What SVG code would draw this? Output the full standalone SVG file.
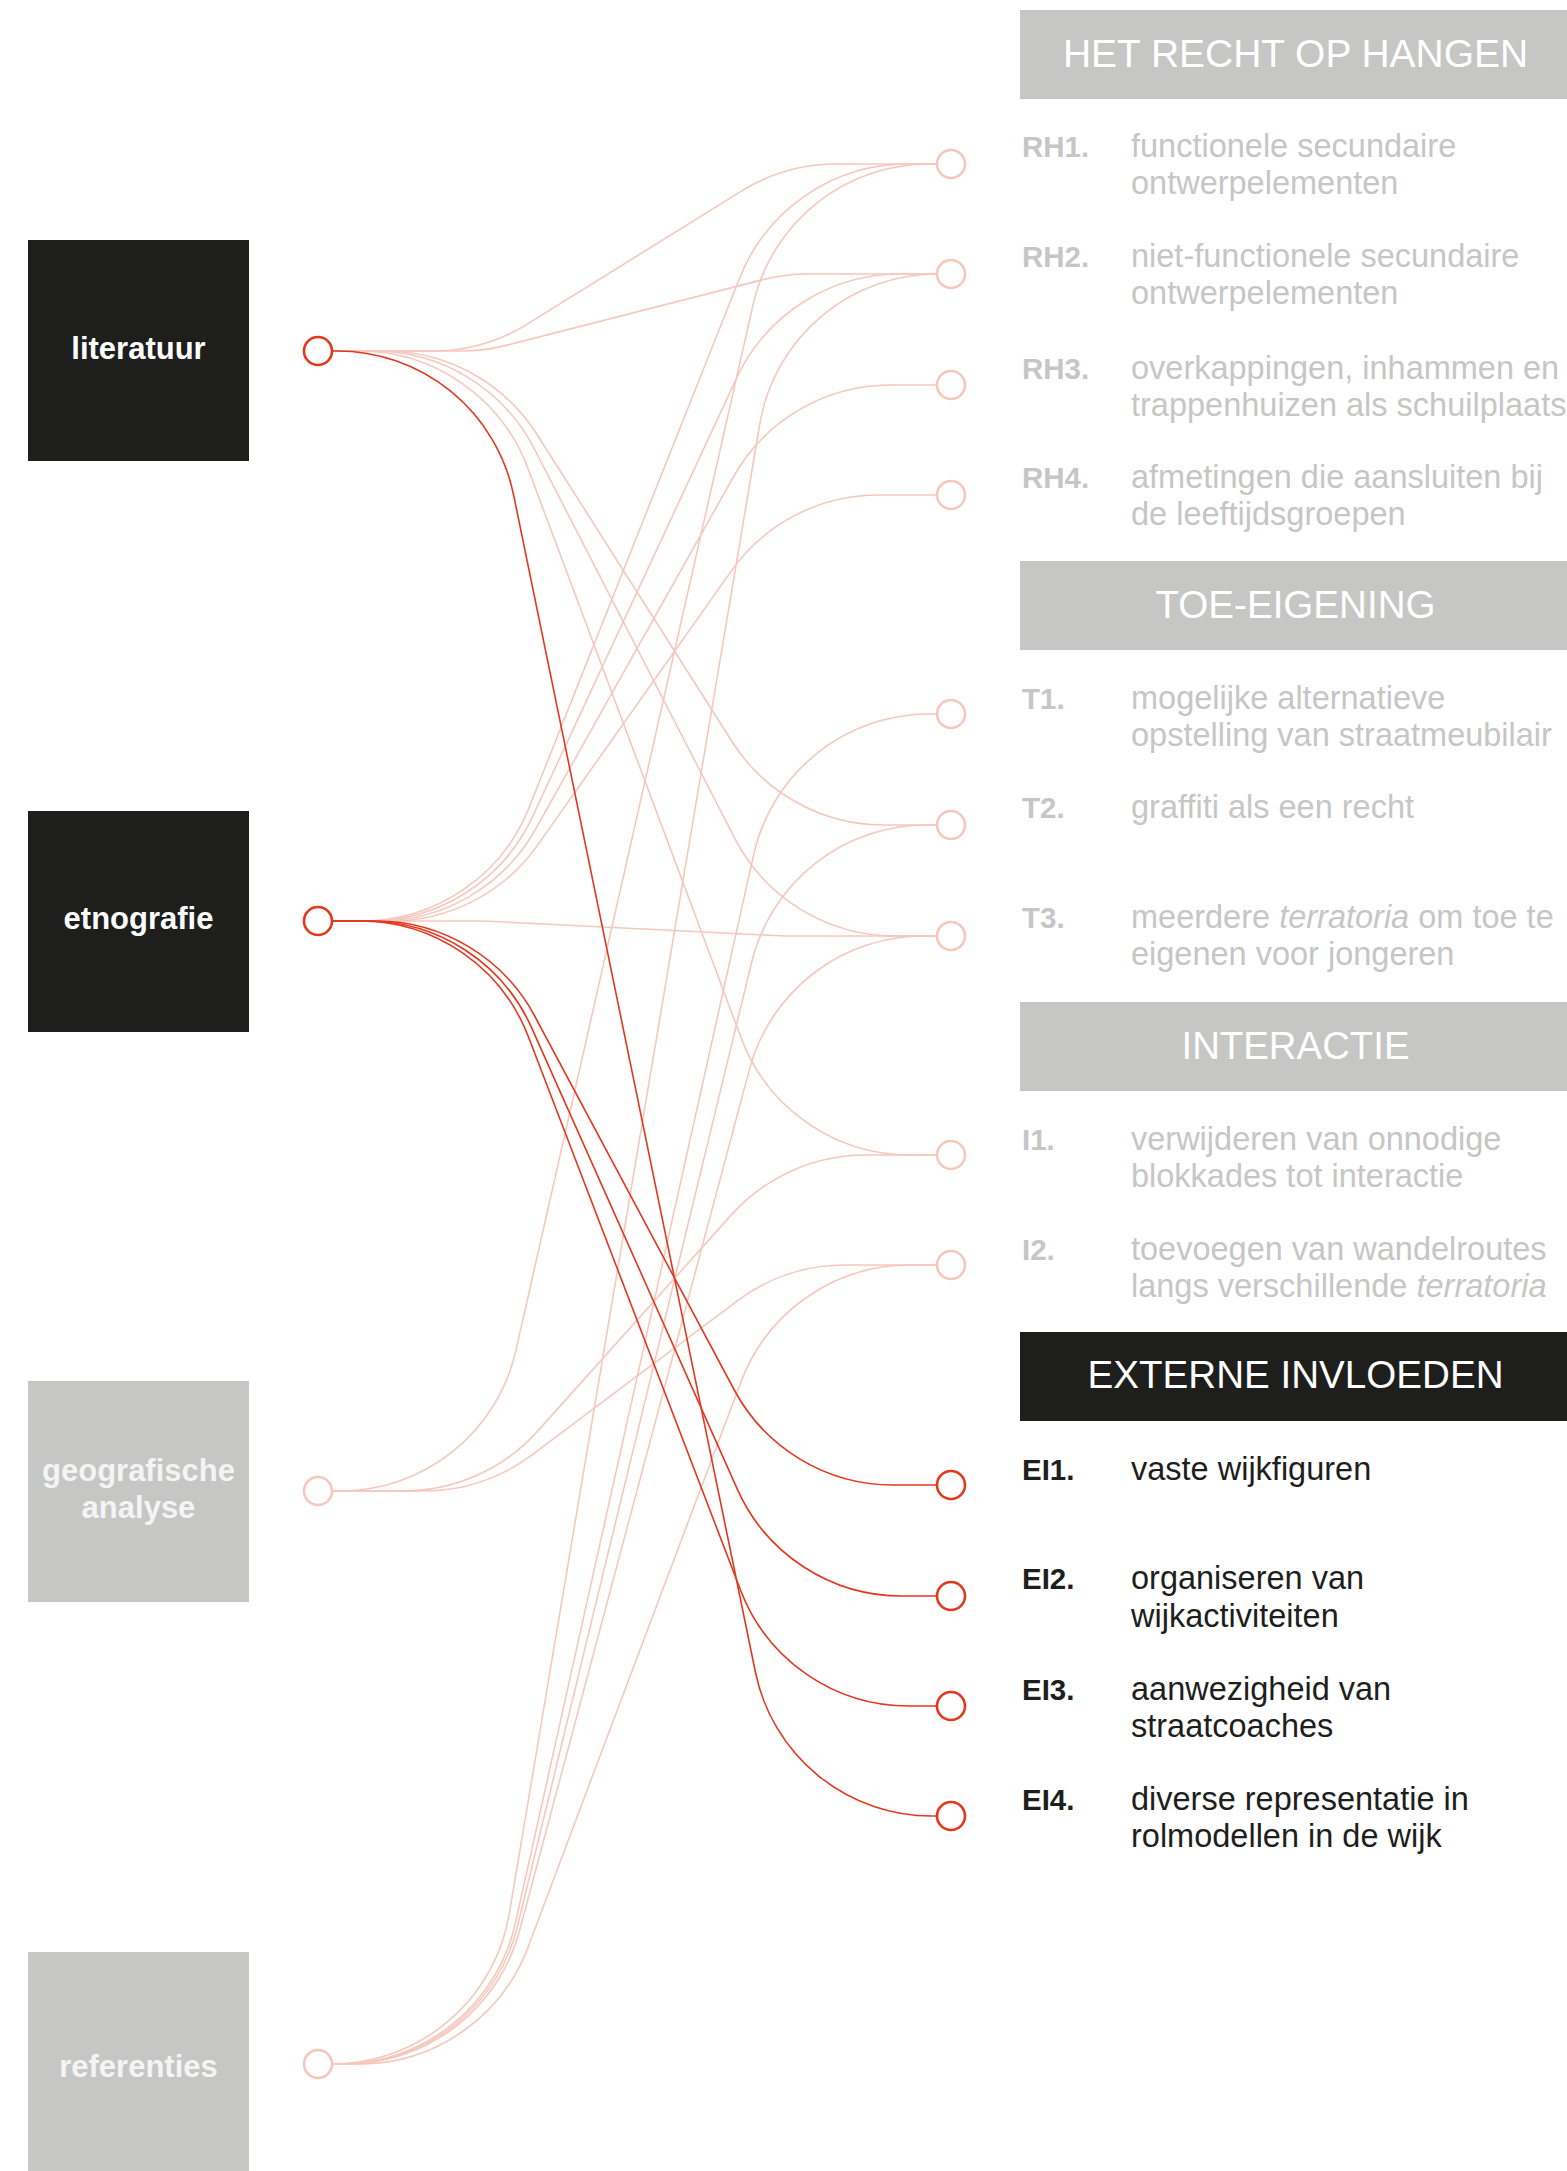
<svg xmlns="http://www.w3.org/2000/svg" width="1567" height="2171" viewBox="0 0 1567 2171">
<style>
.bg{fill:#ffffff}
.src{font-family:"Liberation Sans",Arial,sans-serif;font-weight:bold;font-size:31px;text-anchor:middle}
.hdr{font-family:"Liberation Sans",Arial,sans-serif;font-size:39px;fill:#ffffff;text-anchor:middle}
.lab{font-family:"Liberation Sans",Arial,sans-serif;font-weight:bold;font-size:29.5px}
.txt{font-family:"Liberation Sans",Arial,sans-serif;font-size:32.5px}
.pale{fill:#c6c6c5}
.dark{fill:#1e1e1d}
.lnk{fill:none;stroke:#f6c8bd;stroke-width:1.6}
.act{fill:none;stroke:#e3371e;stroke-width:1.6}
.pc{fill:#ffffff;stroke:#f6c8bd;stroke-width:2.6}
.rc{fill:#ffffff;stroke:#e3371e;stroke-width:2.6}
</style>
<rect class="bg" x="0" y="0" width="1567" height="2171"/>

<g id="connectors">
<path class="lnk" d="M318 351 H432.64 A180 180 0 0 0 527.63 323.90 L741.37 191.10 A180 180 0 0 1 836.36 164 H951"/>
<path class="lnk" d="M318 351 H461.34 A180 180 0 0 0 505.95 345.38 L763.05 279.62 A180 180 0 0 1 807.66 274 H951"/>
<path class="lnk" d="M318 351 H385.08 A180 180 0 0 1 537.03 434.51 L731.97 741.49 A180 180 0 0 0 883.92 825 H951"/>
<path class="lnk" d="M318 351 H374.19 A180 180 0 0 1 534.24 448.64 L734.76 838.36 A180 180 0 0 0 894.81 936 H951"/>
<path class="lnk" d="M318 351 H359.19 A180 180 0 0 1 527.76 467.89 L741.24 1038.11 A180 180 0 0 0 909.81 1155 H951"/>
<path class="lnk" d="M318 921 H361.86 A180 180 0 0 0 529.13 807.51 L739.87 277.49 A180 180 0 0 1 907.14 164 H951"/>
<path class="lnk" d="M318 921 H369.22 A180 180 0 0 0 532.41 816.93 L736.59 378.07 A180 180 0 0 1 899.78 274 H951"/>
<path class="lnk" d="M318 921 H378.64 A180 180 0 0 0 535.58 829.14 L733.42 476.86 A180 180 0 0 1 890.36 385 H951"/>
<path class="lnk" d="M318 921 H390.78 A180 180 0 0 0 537.80 844.87 L731.20 571.13 A180 180 0 0 1 878.22 495 H951"/>
<path class="lnk" d="M318 921 H479.52 A180 180 0 0 1 488.47 921.22 L780.53 935.78 A180 180 0 0 0 789.48 936 H951"/>
<path class="lnk" d="M318 1491 H340.26 A180 180 0 0 0 515.80 1350.82 L753.20 304.18 A180 180 0 0 1 928.74 164 H951"/>
<path class="lnk" d="M318 1491 H403.59 A180 180 0 0 0 537.65 1431.11 L731.35 1214.89 A180 180 0 0 1 865.41 1155 H951"/>
<path class="lnk" d="M318 1491 H423.95 A180 180 0 0 0 532.02 1454.95 L736.98 1301.05 A180 180 0 0 1 845.05 1265 H951"/>
<path class="lnk" d="M318 2064 H331.74 A180 180 0 0 0 509.24 1913.84 L759.76 424.16 A180 180 0 0 1 937.26 274 H951"/>
<path class="lnk" d="M318 2064 H339.71 A180 180 0 0 0 515.40 1923.17 L753.60 854.83 A180 180 0 0 1 929.29 714 H951"/>
<path class="lnk" d="M318 2064 H342.49 A180 180 0 0 0 517.41 1926.49 L751.59 962.51 A180 180 0 0 1 926.51 825 H951"/>
<path class="lnk" d="M318 2064 H345.73 A180 180 0 0 0 519.65 1930.40 L749.35 1069.60 A180 180 0 0 1 923.27 936 H951"/>
<path class="lnk" d="M318 2064 H359.46 A180 180 0 0 0 527.90 1947.46 L741.10 1381.54 A180 180 0 0 1 909.54 1265 H951"/>
<path class="act" d="M318 351 H337.22 A180 180 0 0 1 513.55 494.77 L755.45 1672.23 A180 180 0 0 0 931.78 1816 H951"/>
<path class="act" d="M318 921 H376.03 A180 180 0 0 1 534.83 1016.25 L734.17 1389.75 A180 180 0 0 0 892.97 1485 H951"/>
<path class="act" d="M318 921 H367.18 A180 180 0 0 1 531.58 1027.69 L737.42 1489.31 A180 180 0 0 0 901.82 1596 H951"/>
<path class="act" d="M318 921 H360.24 A180 180 0 0 1 528.31 1036.56 L740.69 1590.44 A180 180 0 0 0 908.76 1706 H951"/>
</g>

<g id="src-literatuur">
<rect class="dark" x="28" y="240" width="221" height="221"/>
<text class="src" x="138.5" y="359" fill="#ffffff">literatuur</text>
<circle class="rc" cx="318" cy="351" r="14"/>
</g>
<g id="src-etnografie">
<rect class="dark" x="28" y="811" width="221" height="221"/>
<text class="src" x="138.5" y="929" fill="#ffffff">etnografie</text>
<circle class="rc" cx="318" cy="921" r="14"/>
</g>
<g id="src-geografische-analyse">
<rect class="pale" x="28" y="1381" width="221" height="221"/>
<text class="src" x="138.5" y="1481" fill="#f4f4f4">geografische</text>
<text class="src" x="138.5" y="1518" fill="#f4f4f4">analyse</text>
<circle class="pc" cx="318" cy="1491" r="14"/>
</g>
<g id="src-referenties">
<rect class="pale" x="28" y="1952" width="221" height="221"/>
<text class="src" x="138.5" y="2077" fill="#f4f4f4">referenties</text>
<circle class="pc" cx="318" cy="2064" r="14"/>
</g>

<g id="hdr-recht">
<rect class="pale" x="1020" y="10" width="547" height="89"/>
<text class="hdr" x="1295.5" y="67" textLength="465" lengthAdjust="spacingAndGlyphs">HET RECHT OP HANGEN</text>
</g>
<g id="RH1">
<circle class="pc" cx="951" cy="164" r="14"/>
<text class="lab pale" x="1022" y="157">RH1.</text>
<text class="txt pale" x="1131" y="157">functionele secundaire</text>
<text class="txt pale" x="1131" y="194">ontwerpelementen</text>
</g>
<g id="RH2">
<circle class="pc" cx="951" cy="274" r="14"/>
<text class="lab pale" x="1022" y="267">RH2.</text>
<text class="txt pale" x="1131" y="267">niet-functionele secundaire</text>
<text class="txt pale" x="1131" y="304">ontwerpelementen</text>
</g>
<g id="RH3">
<circle class="pc" cx="951" cy="385" r="14"/>
<text class="lab pale" x="1022" y="379">RH3.</text>
<text class="txt pale" x="1131" y="379">overkappingen, inhammen en</text>
<text class="txt pale" x="1131" y="416">trappenhuizen als schuilplaats</text>
</g>
<g id="RH4">
<circle class="pc" cx="951" cy="495" r="14"/>
<text class="lab pale" x="1022" y="488">RH4.</text>
<text class="txt pale" x="1131" y="488">afmetingen die aansluiten bij</text>
<text class="txt pale" x="1131" y="525">de leeftijdsgroepen</text>
</g>

<g id="hdr-toe-eigening">
<rect class="pale" x="1020" y="561" width="547" height="89"/>
<text class="hdr" x="1295.5" y="618" textLength="280" lengthAdjust="spacingAndGlyphs">TOE-EIGENING</text>
</g>
<g id="T1">
<circle class="pc" cx="951" cy="714" r="14"/>
<text class="lab pale" x="1022" y="709">T1.</text>
<text class="txt pale" x="1131" y="709">mogelijke alternatieve</text>
<text class="txt pale" x="1131" y="746">opstelling van straatmeubilair</text>
</g>
<g id="T2">
<circle class="pc" cx="951" cy="825" r="14"/>
<text class="lab pale" x="1022" y="818">T2.</text>
<text class="txt pale" x="1131" y="818">graffiti als een recht</text>
</g>
<g id="T3">
<circle class="pc" cx="951" cy="936" r="14"/>
<text class="lab pale" x="1022" y="928">T3.</text>
<text class="txt pale" x="1131" y="928">meerdere <tspan font-style="italic">terratoria</tspan> om toe te</text>
<text class="txt pale" x="1131" y="965">eigenen voor jongeren</text>
</g>

<g id="hdr-interactie">
<rect class="pale" x="1020" y="1002" width="547" height="89"/>
<text class="hdr" x="1295.5" y="1059" textLength="228" lengthAdjust="spacingAndGlyphs">INTERACTIE</text>
</g>
<g id="I1">
<circle class="pc" cx="951" cy="1155" r="14"/>
<text class="lab pale" x="1022" y="1150">I1.</text>
<text class="txt pale" x="1131" y="1150">verwijderen van onnodige</text>
<text class="txt pale" x="1131" y="1187">blokkades tot interactie</text>
</g>
<g id="I2">
<circle class="pc" cx="951" cy="1265" r="14"/>
<text class="lab pale" x="1022" y="1260">I2.</text>
<text class="txt pale" x="1131" y="1260">toevoegen van wandelroutes</text>
<text class="txt pale" x="1131" y="1297">langs verschillende <tspan font-style="italic">terratoria</tspan></text>
</g>

<g id="hdr-externe">
<rect class="dark" x="1020" y="1332" width="547" height="89"/>
<text class="hdr" x="1295.5" y="1388" textLength="416" lengthAdjust="spacingAndGlyphs">EXTERNE INVLOEDEN</text>
</g>
<g id="EI1">
<circle class="rc" cx="951" cy="1485" r="14"/>
<text class="lab dark" x="1022" y="1480">EI1.</text>
<text class="txt dark" x="1131" y="1480">vaste wijkfiguren</text>
</g>
<g id="EI2">
<circle class="rc" cx="951" cy="1596" r="14"/>
<text class="lab dark" x="1022" y="1589">EI2.</text>
<text class="txt dark" x="1131" y="1589">organiseren van</text>
<text class="txt dark" x="1131" y="1627">wijkactiviteiten</text>
</g>
<g id="EI3">
<circle class="rc" cx="951" cy="1706" r="14"/>
<text class="lab dark" x="1022" y="1700">EI3.</text>
<text class="txt dark" x="1131" y="1700">aanwezigheid van</text>
<text class="txt dark" x="1131" y="1737">straatcoaches</text>
</g>
<g id="EI4">
<circle class="rc" cx="951" cy="1816" r="14"/>
<text class="lab dark" x="1022" y="1810">EI4.</text>
<text class="txt dark" x="1131" y="1810">diverse representatie in</text>
<text class="txt dark" x="1131" y="1847">rolmodellen in de wijk</text>
</g>
</svg>
